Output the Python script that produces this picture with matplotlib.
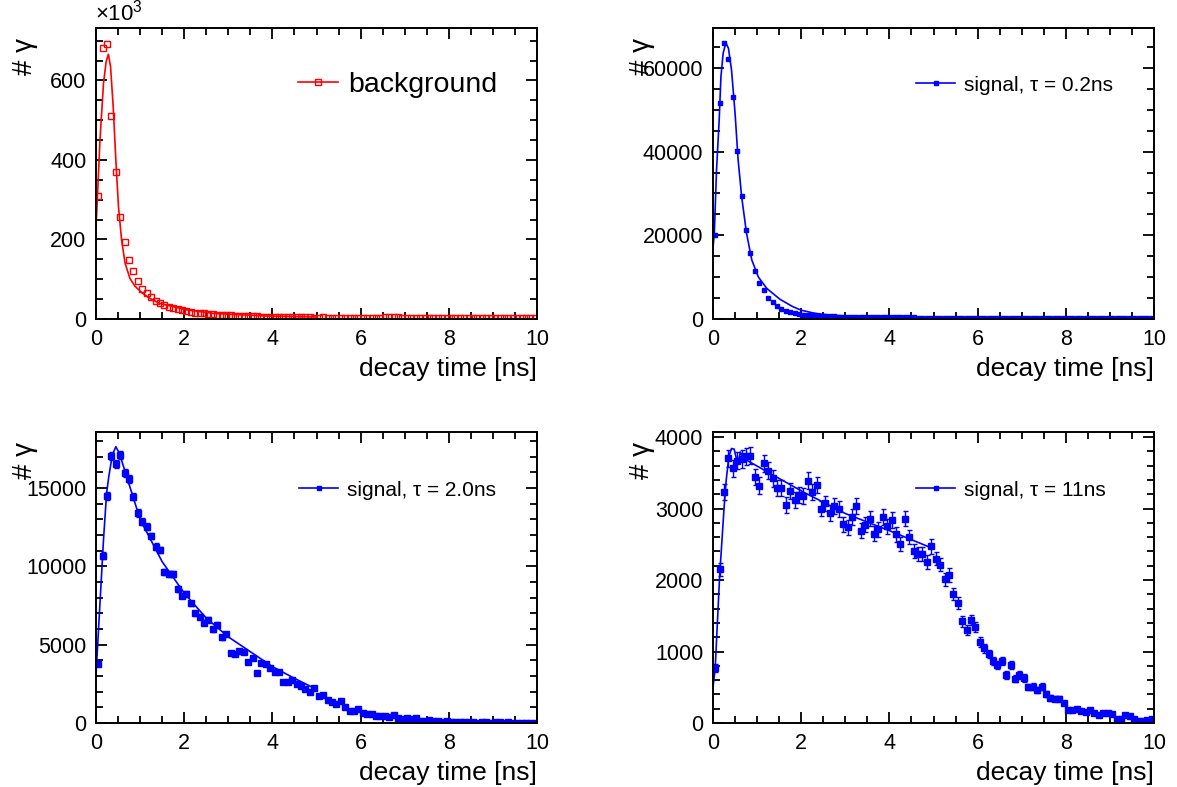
import numpy as np
import matplotlib
matplotlib.use("Agg")
import matplotlib.pyplot as plt
from matplotlib.ticker import MultipleLocator

plt.rcParams['font.family'] = ['Liberation Sans', 'DejaVu Sans']
plt.rcParams['mathtext.fontset'] = 'custom'
plt.rcParams['mathtext.rm'] = 'Liberation Sans'

# bin centres, 100 bins of 0.1 ns
t = np.arange(100) * 0.1 + 0.05

# background (units of 10^3)
bkg = [309, 681, 691, 511, 369, 257, 193, 149, 122, 96,
       75, 65, 55, 45, 39, 35, 31, 27, 24, 23,
       20, 18, 16, 15, 14, 13, 12, 11, 10, 9.5,
       9, 8.5, 8, 7.5, 7, 7, 6.5, 6, 6, 5.5,
       5, 5, 4.5, 4.5, 4, 4.5, 4, 4, 4, 3.5,
       3.5, 4, 3.5, 3.5, 3, 3.5, 3, 3.5, 3, 3,
       3, 3.5, 3, 3, 3.5, 4, 4.5, 4.5, 4, 3.5,
       3.5, 3, 3, 3.5, 3, 3, 3, 3.5, 3, 3,
       3, 3, 2.5, 3, 3, 2.5, 3, 2.5, 2.5, 3,
       2.5, 2.5, 3, 2.5, 2.5, 2.5, 2, 2.5, 2, 2]
bkg_fit_x = [0.0, 0.03, 0.09, 0.17, 0.23, 0.28, 0.33, 0.39, 0.45, 0.51, 0.58, 0.66,
             0.77, 0.88, 1.04, 1.22, 1.45, 1.75, 2.06, 2.66, 3.42, 4.0, 5.0]
bkg_fit_y = [230, 300, 450, 593, 647, 666, 635, 534, 400, 282, 199, 140,
             102, 83, 66, 52, 39, 31, 23, 14, 10, 7, 5]

# signal tau = 0.2 ns
sig02 = [20000, 51500, 65900, 62100, 53000, 40100, 29400, 21200, 15700, 11500,
         8500, 6900, 5100, 4100, 3200, 2500, 2000, 1600, 1350, 1200,
         1050, 950, 850, 780, 720, 680, 640, 600, 570, 540,
         520, 500, 480, 470, 450, 440, 430, 420, 410, 400,
         390, 380, 380, 370, 360, 360, 350, 350, 340, 340,
         330, 320, 330, 310, 320, 300, 310, 300, 290, 300,
         290, 280, 290, 280, 270, 280, 270, 260, 270, 260,
         260, 250, 260, 250, 240, 250, 240, 230, 240, 230,
         230, 220, 230, 220, 210, 220, 210, 200, 210, 200,
         200, 190, 200, 190, 180, 190, 180, 170, 180, 170]
sig02_fit_x = [0.0, 0.03, 0.08, 0.14, 0.18, 0.23, 0.29, 0.35, 0.42, 0.50, 0.57, 0.65,
               0.76, 0.88, 1.03, 1.22, 1.52, 1.8, 2.0, 2.27, 2.5, 3.0, 4.0, 5.0]
sig02_fit_y = [17000, 20500, 35600, 47500, 57900, 63500, 66000, 64700, 59500, 49200, 38000, 29200,
               20500, 14100, 10000, 7300, 4700, 3000, 2100, 1450, 1100, 700, 450, 350]

# signal tau = 2.0 ns
sig20 = [3750, 10680, 14500, 17050, 16540, 17130, 15940, 15580, 14450, 13410,
         12860, 12520, 11940, 11260, 11050, 9640, 9520, 9520, 8560, 8130,
         8240, 7640, 7000, 6790, 6410, 6580, 5980, 6260, 5470, 5680,
         4450, 4410, 4600, 4510, 3870, 4170, 3210, 3850, 3750, 3530,
         3240, 3260, 2620, 2600, 2730, 2490, 2360, 2200, 2000, 2260,
         1740, 1790, 1450, 1360, 1210, 1420, 1000, 790, 790, 870,
         660, 550, 600, 470, 430, 430, 400, 490, 300, 230,
         320, 250, 320, 110, 110, 170, 130, 130, 90, 130,
         40, 60, 90, 90, 40, 40, 30, 50, 40, 30,
         40, 35, 30, 40, 30, 10, 5, 10, 10, 5]
sig20_fit_x = [0.0, 0.09, 0.17, 0.24, 0.29, 0.37, 0.45, 0.53, 1.0, 1.5, 2.0, 2.5,
               3.0, 3.5, 4.0, 4.5, 5.0]
sig20_fit_y = [3070, 7640, 11700, 14670, 15730, 17110, 17640, 17220, 13000, 10300, 8300, 6700,
               5500, 4550, 3600, 2850, 2150]

# signal tau = 11 ns
sig11 = [765, 2150, 3230, 3700, 3560, 3670, 3690, 3730, 3740, 3440,
         3320, 3630, 3525, 3420, 3290, 3290, 3050, 3240, 3120, 3190,
         3180, 3390, 3230, 3330, 3000, 3070, 2940, 3040, 2990, 2780,
         2740, 2880, 3040, 2690, 2770, 2860, 2650, 2710, 2880, 2750,
         2840, 2640, 2500, 2860, 2600, 2410, 2370, 2370, 2250, 2470,
         2300, 2215, 2010, 2070, 1800, 1680, 1420, 1300, 1440, 1340,
         1130, 1045, 965, 870, 810, 870, 670, 810, 620, 670,
         630, 500, 510, 460, 510, 410, 350, 340, 340, 280,
         180, 180, 200, 165, 160, 185, 145, 110, 145, 135,
         120, 60, 60, 105, 95, 60, 30, 30, 45, 60]
sig11_fit_x = [0.0, 0.05, 0.15, 0.25, 0.30, 0.36, 0.42, 0.48, 0.53, 0.57, 0.62, 0.67,
               0.75, 1.5, 2.05, 3.0, 4.0, 4.95]
sig11_fit_y = [500, 770, 2050, 3000, 3400, 3730, 3840, 3830, 3700, 3640, 3790, 3720,
               3680, 3420, 3230, 2930, 2690, 2450]

RED = '#ff0000'
BLUE = '#0000ff'

fig = plt.figure(figsize=(11.77, 7.87), dpi=100)
W, H = 441 / 1177, 291 / 787
ax1 = fig.add_axes([96 / 1177, 1 - 319 / 787, W, H])
ax2 = fig.add_axes([713 / 1177, 1 - 319 / 787, W, H])
ax3 = fig.add_axes([96 / 1177, 1 - 723 / 787, W, H])
ax4 = fig.add_axes([713 / 1177, 1 - 723 / 787, W, H])


def style(ax, ymax, ymaj, ymin):
    ax.set_xlim(0, 10)
    ax.set_ylim(0, ymax)
    ax.xaxis.set_major_locator(MultipleLocator(2))
    ax.xaxis.set_minor_locator(MultipleLocator(0.5))
    ax.yaxis.set_major_locator(MultipleLocator(ymaj))
    ax.yaxis.set_minor_locator(MultipleLocator(ymin))
    ax.tick_params(which='both', direction='in', top=True, right=True,
                   labelsize=15.5, width=1.3, pad=7)
    ax.tick_params(which='major', length=8)
    ax.tick_params(which='minor', length=5)
    for s in ax.spines.values():
        s.set_linewidth(1.4)
    ax.set_xlabel('decay time [ns]', loc='right', fontsize=19, labelpad=5)
    ax.set_ylabel('# γ', loc='top', fontsize=20)
    ax.yaxis.set_label_coords(-0.132, 0.965)


# background
ax1.plot(bkg_fit_x, bkg_fit_y, color=RED, lw=1.2)
ax1.plot(t, bkg, 's', color=RED, mfc='none', ms=3.8, mew=1.0)
h1, = ax1.plot([], [], '-s', color=RED, mfc='none', ms=3.8, mew=1.0, lw=1.2)
style(ax1, 732, 200, 50)
ax1.text(-0.003, 1.01, r'$\times10^{3}$', transform=ax1.transAxes, fontsize=16,
         ha='left', va='bottom')
ax1.legend([h1], ['background'], loc='center left', bbox_to_anchor=(0.458, 0.804),
           frameon=False, fontsize=20.5, borderpad=0, borderaxespad=0,
           handlelength=1.4, handletextpad=0.35, numpoints=1)

# signal 0.2 ns
ax2.plot(sig02_fit_x, sig02_fit_y, color=BLUE, lw=1.2)
ax2.plot(t, sig02, 's', color=BLUE, ms=3.2)
style(ax2, 69540, 20000, 5000)
h2, = ax2.plot([], [], '-s', color=BLUE, ms=3.2, lw=1.2)
ax2.legend([h2], ['signal, τ = 0.2ns'], loc='center left', bbox_to_anchor=(0.46, 0.804),
           frameon=False, fontsize=15, borderpad=0, borderaxespad=0,
           handlelength=1.9, handletextpad=0.42, numpoints=1)


def sig_panel(ax, y, fx, fy, label, ymax, ymaj, ymin):
    ax.plot(fx, fy, color=BLUE, lw=1.2)
    y = np.asarray(y, dtype=float)
    ax.errorbar(t, y, yerr=2.0 * np.sqrt(y), fmt='s', color=BLUE, ms=3.8,
                elinewidth=1.0, capsize=1.8, capthick=1.0)
    h, = ax.plot([], [], '-s', color=BLUE, ms=3.2, lw=1.2)
    style(ax, ymax, ymaj, ymin)
    ax.legend([h], [label], loc='center left', bbox_to_anchor=(0.46, 0.80),
              frameon=False, fontsize=15, borderpad=0, borderaxespad=0,
              handlelength=1.9, handletextpad=0.42, numpoints=1)


sig_panel(ax3, sig20, sig20_fit_x, sig20_fit_y, 'signal, τ = 2.0ns', 18580, 5000, 1000)
sig_panel(ax4, sig11, sig11_fit_x, sig11_fit_y, 'signal, τ = 11ns', 4070, 1000, 200)

fig.savefig('out.png', dpi=100)
